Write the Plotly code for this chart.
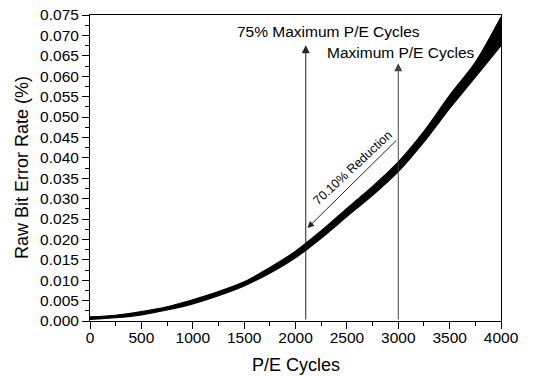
import plotly.graph_objects as go

# P/E cycles sample points
pe_cycles = [0, 250, 500, 750, 1000, 1250, 1500, 1750, 2000, 2250, 2500,
             2750, 3000, 3250, 3500, 3750, 4000]
# lower / upper edges of the noisy raw bit error rate trace (%)
rber_low = [0.0004, 0.0008, 0.0015, 0.0027, 0.0042, 0.0062, 0.0086, 0.0117,
            0.0155, 0.0203, 0.0256, 0.0308, 0.0366, 0.0439, 0.0521, 0.0598,
            0.0675]
rber_high = [0.0010, 0.0014, 0.0023, 0.0035, 0.0052, 0.0072, 0.0096, 0.0131,
             0.0171, 0.0221, 0.0276, 0.0330, 0.0390, 0.0465, 0.0553, 0.0634,
             0.0745]

x_ticks = [0, 500, 1000, 1500, 2000, 2500, 3000, 3500, 4000]
y_ticks = [0.000, 0.005, 0.010, 0.015, 0.020, 0.025, 0.030, 0.035, 0.040,
           0.045, 0.050, 0.055, 0.060, 0.065, 0.070, 0.075]

pe_75 = 2100
pe_max = 3000

FONT = "Liberation Sans, Arial, sans-serif"

fig = go.Figure()
fig.add_trace(go.Scatter(x=pe_cycles, y=rber_low, mode="lines",
                         line=dict(color="black", width=1.2, shape="spline",
                                   smoothing=0.8),
                         showlegend=False, hoverinfo="skip"))
fig.add_trace(go.Scatter(x=pe_cycles, y=rber_high, mode="lines",
                         line=dict(color="black", width=1.2, shape="spline",
                                   smoothing=0.8),
                         fill="tonexty", fillcolor="black",
                         showlegend=False, hoverinfo="skip"))

# vertical arrows
fig.add_annotation(x=pe_75, y=0.0676, ax=pe_75, ay=0.0, xref="x", yref="y",
                   axref="x", ayref="y", showarrow=True, arrowhead=2,
                   arrowsize=1.6, arrowwidth=1, arrowcolor="#222", text="")
fig.add_annotation(x=pe_max, y=0.0632, ax=pe_max, ay=0.0, xref="x", yref="y",
                   axref="x", ayref="y", showarrow=True, arrowhead=2,
                   arrowsize=1.6, arrowwidth=1, arrowcolor="#444", text="")
# diagonal reduction arrow
fig.add_annotation(x=2117, y=0.0228, ax=2995, ay=0.0446, xref="x", yref="y",
                   axref="x", ayref="y", showarrow=True, arrowhead=2,
                   arrowsize=1.3, arrowwidth=1, arrowcolor="#222", text="")

fig.add_annotation(x=2322, y=0.0710, xref="x", yref="y", showarrow=False,
                   text="75% Maximum P/E Cycles",
                   font=dict(family=FONT, size=15.5, color="black"))
fig.add_annotation(x=3024, y=0.0659, xref="x", yref="y", showarrow=False,
                   text="Maximum P/E Cycles",
                   font=dict(family=FONT, size=15.5, color="black"))
fig.add_annotation(x=2556, y=0.0374, xref="x", yref="y", showarrow=False,
                   text="70.10% Reduction", textangle=-43,
                   font=dict(family=FONT, size=12.5, color="black"))

# axis titles
fig.add_annotation(x=0.5, y=0, xref="paper", yref="paper", showarrow=False,
                   yanchor="middle", yshift=-44, text="P/E Cycles",
                   font=dict(family=FONT, size=18, color="black"))
fig.add_annotation(x=0, y=0.5, xref="paper", yref="paper", showarrow=False,
                   xanchor="center", xshift=-68, textangle=-90,
                   text="Raw Bit Error Rate (%)",
                   font=dict(family=FONT, size=18, color="black"))

fig.update_layout(
    width=534, height=376,
    margin=dict(l=90, r=33, t=15, b=55, autoexpand=False),
    paper_bgcolor="white", plot_bgcolor="white",
    font=dict(family=FONT, size=15.5, color="black"),
    showlegend=False,
)
fig.update_xaxes(
    range=[0, 4000], tickvals=x_ticks, ticktext=[str(v) for v in x_ticks],
    showgrid=False, zeroline=False, showline=True, linecolor="black",
    linewidth=1, mirror=True, ticks="outside", ticklen=7, tickwidth=1,
    tickcolor="black", ticklabelstandoff=-5, automargin=False,
    minor=dict(dtick=250, ticks="outside", ticklen=4, tickcolor="black",
               showgrid=False),
)
fig.update_yaxes(
    range=[0, 0.075], tickvals=y_ticks, ticktext=[f"{v:.3f}" for v in y_ticks],
    showgrid=False, zeroline=False, showline=True, linecolor="black",
    linewidth=1, mirror=True, ticks="outside", ticklen=7, tickwidth=1,
    tickcolor="black", automargin=False,
    minor=dict(dtick=0.0025, ticks="outside", ticklen=4, tickcolor="black",
               showgrid=False),
)

fig.write_html("out.html")
